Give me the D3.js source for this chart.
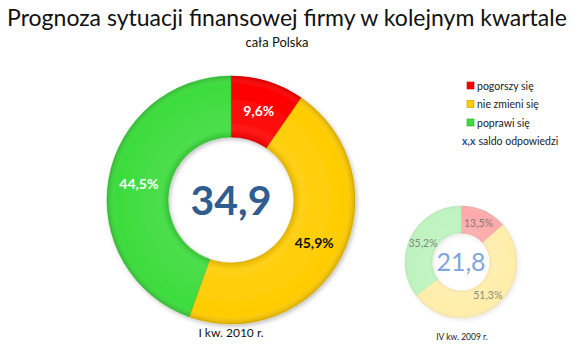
<!DOCTYPE html>
<html>
<head>
<meta charset="utf-8">
<script src="https://cdn.jsdelivr.net/npm/d3@7"></script>
<style>
  html, body { margin: 0; padding: 0; background: #fff; }
  svg { display: block; font-family: Lato, "Open Sans", sans-serif; }
</style>
</head>
<body>
<svg id="chart" width="580" height="348"></svg>
<script>
// Response categories and their colours
const categories = ["pogorszy się", "nie zmieni  się", "poprawi się"];
const colors = ["#ff0000", "#ffcc00", "#3ddc3d"];

// Shares of answers (%) in each quarter
const current = [9.6, 45.9, 44.5];   // I kw. 2010 r.
const previous = [13.5, 51.3, 35.2]; // IV kw. 2009 r.

// Balance of answers shown in the middle of each ring
const balanceCurrent = "34,9";
const balancePrevious = "21,8";

const periodLabels = ["I kw. 2010 r.", "IV kw. 2009 r."];

const svg = d3.select("#chart");
const fmt = v => d3.format(".1f")(v).replace(".", ",") + "%";

const defs = svg.append("defs");
const shadow = defs.append("filter").attr("id", "shadow")
  .attr("x", "-20%").attr("y", "-20%").attr("width", "140%").attr("height", "140%");
shadow.append("feDropShadow").attr("dx", 1.5).attr("dy", 2).attr("stdDeviation", 2)
  .attr("flood-color", "#000").attr("flood-opacity", 0.25);

// soft bevel shading over each ring
function bevel(id, inner, outer) {
  const g = defs.append("radialGradient").attr("id", id)
    .attr("gradientUnits", "userSpaceOnUse").attr("cx", 0).attr("cy", 0).attr("r", outer);
  const f = inner / outer;
  g.append("stop").attr("offset", f).attr("stop-color", "#000").attr("stop-opacity", 0.12);
  g.append("stop").attr("offset", f + (1 - f) * 0.12).attr("stop-color", "#fff").attr("stop-opacity", 0.08);
  g.append("stop").attr("offset", f + (1 - f) * 0.85).attr("stop-color", "#fff").attr("stop-opacity", 0);
  g.append("stop").attr("offset", 1).attr("stop-color", "#000").attr("stop-opacity", 0.15);
}

const pie = d3.pie().sort(null).value(d => d);

function donut(values, cx, cy, inner, outer, opts) {
  const g = svg.append("g").attr("transform", `translate(${cx},${cy})`);
  const arc = d3.arc().innerRadius(inner).outerRadius(outer);
  const arcs = pie(values);
  const gid = "bev" + cx;
  bevel(gid, inner, outer);

  const ring = g.append("g").attr("filter", "url(#shadow)").attr("opacity", opts.ringOpacity);
  ring.selectAll("path.seg").data(arcs).join("path")
    .attr("class", "seg")
    .attr("d", arc)
    .attr("fill", (d, i) => colors[i])
    .attr("stroke", (d, i) => d3.color(colors[i]).darker(0.4))
    .attr("stroke-width", 0.6);
  ring.selectAll("path.bev").data(arcs).join("path")
    .attr("class", "bev")
    .attr("d", arc)
    .attr("fill", `url(#${gid})`);

  g.selectAll("text.pct").data(arcs).join("text")
    .attr("class", "pct")
    .attr("transform", d => `translate(${arc.centroid(d)})`)
    .attr("text-anchor", "middle")
    .attr("dy", "0.35em")
    .attr("font-size", opts.pctSize)
    .attr("font-weight", opts.pctWeight)
    .attr("fill", (d, i) => opts.pctColor[i])
    .text(d => fmt(d.data));

  g.append("text")
    .attr("text-anchor", "middle")
    .attr("dy", "0.36em")
    .attr("font-size", opts.centerSize)
    .attr("font-weight", opts.centerWeight)
    .attr("fill", opts.centerColor)
    .text(opts.center);

  return g;
}

donut(current, 231, 200, 63, 124, {
  ringOpacity: 1,
  pctSize: 14, pctWeight: 700,
  pctColor: ["#fff", "#111", "#fff"],
  center: balanceCurrent, centerSize: 41, centerWeight: 700, centerColor: "#2f5d8f"
});

donut(previous, 461, 262, 29, 56, {
  ringOpacity: 0.33,
  pctSize: 10.5, pctWeight: 400,
  pctColor: ["#8a7a7a", "#8a8a80", "#7f8a7f"],
  center: balancePrevious, centerSize: 25, centerWeight: 400, centerColor: "#7fa6dc"
});

// period captions
svg.append("text").attr("x", 231).attr("y", 337).attr("text-anchor", "middle")
  .attr("font-size", 12).attr("fill", "#111").text(periodLabels[0]);
svg.append("text").attr("x", 462).attr("y", 340).attr("text-anchor", "middle")
  .attr("font-size", 8.5).attr("fill", "#222").text(periodLabels[1]);

// title
svg.append("text").attr("x", 287).attr("y", 26).attr("text-anchor", "middle")
  .attr("font-size", 23).attr("fill", "#111").text("Prognoza sytuacji finansowej firmy w kolejnym kwartale");
svg.append("text").attr("x", 277).attr("y", 47).attr("text-anchor", "middle")
  .attr("font-size", 13).attr("fill", "#111").text("cała Polska");

// legend
const legend = svg.append("g").attr("transform", "translate(467,86)");
const items = legend.selectAll("g").data(categories).join("g")
  .attr("transform", (d, i) => `translate(0,${i * 18.5})`);
items.append("rect").attr("x", 0).attr("y", -4).attr("width", 7).attr("height", 7)
  .attr("fill", (d, i) => colors[i])
  .attr("stroke", (d, i) => d3.color(colors[i]).darker(0.8)).attr("stroke-width", 0.6);
items.append("text").attr("x", 10).attr("dy", "0.35em")
  .attr("font-size", 10.5).attr("fill", "#222").text(d => d);
const saldo = legend.append("text").attr("x", -5).attr("y", 55.5).attr("dy", "0.35em")
  .attr("font-size", 10.5).attr("fill", "#222");
saldo.append("tspan").attr("font-weight", 700).attr("fill", "#2f4f8f").text("x,x");
saldo.append("tspan").attr("dx", 3).text("saldo odpowiedzi");
</script>
</body>
</html>
